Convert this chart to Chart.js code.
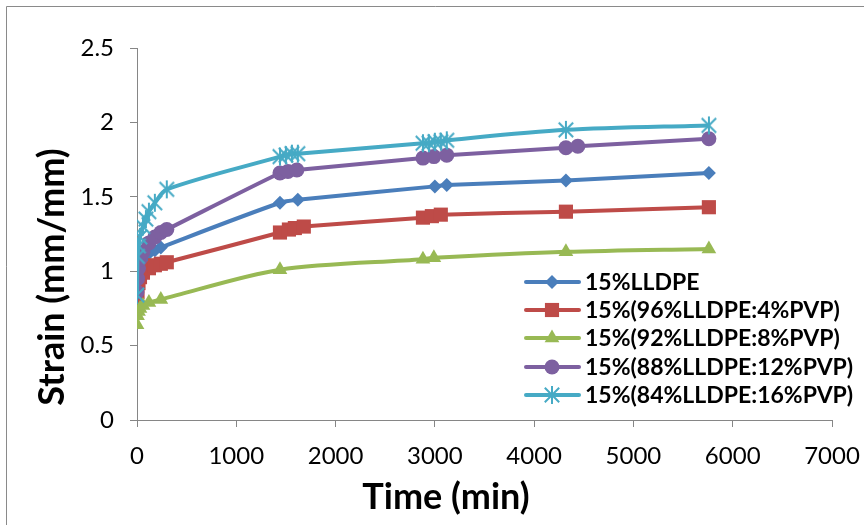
<!DOCTYPE html>
<html>
<head>
<meta charset="utf-8">
<script src="https://cdn.jsdelivr.net/npm/chart.js@4"></script>
<style>
  html, body { margin: 0; padding: 0; background: #fff; }
  #wrap { width: 864px; height: 525px; }
</style>
</head>
<body>
<div id="wrap"><canvas id="strain-chart" width="864" height="525"></canvas></div>
<script>
// Strain vs time for the LLDPE / PVP blends
const seriesNames = [
    '15%LLDPE',
    '15%(96%LLDPE:4%PVP)',
    '15%(92%LLDPE:8%PVP)',
    '15%(88%LLDPE:12%PVP)',
    '15%(84%LLDPE:16%PVP)'
];
const seriesColors = ['#4A7EBB', '#BE4B48', '#98B954', '#7D60A0', '#46AAC5'];

// time (min) and strain (mm/mm) per series
const timeLLDPE = [0, 5, 15, 30, 60, 120, 180, 240, 1440, 1620, 3000, 3120, 4320, 5760];
const strainLLDPE = [0.88, 0.95, 1.00, 1.04, 1.08, 1.12, 1.14, 1.16, 1.46, 1.48, 1.57, 1.58, 1.61, 1.66];

const timePVP4 = [0, 5, 15, 30, 60, 120, 180, 240, 300, 1440, 1530, 1590, 1680, 2880, 2970, 3060, 4320, 5760];
const strainPVP4 = [0.80, 0.86, 0.92, 0.96, 0.99, 1.02, 1.04, 1.05, 1.06, 1.26, 1.28, 1.29, 1.30, 1.36, 1.37, 1.38, 1.40, 1.43];

const timePVP8 = [0, 5, 15, 30, 60, 120, 240, 1440, 2880, 2990, 4320, 5760];
const strainPVP8 = [0.64, 0.70, 0.73, 0.75, 0.77, 0.79, 0.81, 1.01, 1.08, 1.09, 1.13, 1.15];

const timePVP12 = [0, 5, 15, 30, 60, 120, 180, 240, 300, 1440, 1520, 1610, 2880, 2990, 3120, 4320, 4440, 5760];
const strainPVP12 = [0.86, 0.95, 1.02, 1.08, 1.13, 1.19, 1.23, 1.26, 1.28, 1.66, 1.67, 1.68, 1.76, 1.77, 1.78, 1.83, 1.84, 1.89];

const timePVP16 = [0, 5, 15, 30, 60, 90, 120, 180, 300, 1440, 1500, 1560, 1620, 2880, 2940, 3000, 3060, 3120, 4320, 5760];
const strainPVP16 = [0.84, 1.10, 1.17, 1.23, 1.30, 1.35, 1.40, 1.46, 1.55, 1.77, 1.78, 1.79, 1.79, 1.86, 1.86, 1.87, 1.87, 1.88, 1.95, 1.98];

const xTicks = [0, 1000, 2000, 3000, 4000, 5000, 6000, 7000];
const yTicks = [0, 0.5, 1, 1.5, 2, 2.5];

const FONT = 'Lato, "Open Sans", sans-serif';
const AXIS_GRAY = '#868686';

// asterisk marker: vertical bar + X
function makeStar(color, size) {
    const c = document.createElement('canvas');
    c.width = size; c.height = size;
    const g = c.getContext('2d');
    const m = size / 2, r = size / 2 - 1;
    g.strokeStyle = color;
    g.lineWidth = 2;
    g.beginPath();
    g.moveTo(m, m - r); g.lineTo(m, m + r);
    g.moveTo(m - r * 0.8, m - r * 0.8); g.lineTo(m + r * 0.8, m + r * 0.8);
    g.moveTo(m + r * 0.8, m - r * 0.8); g.lineTo(m - r * 0.8, m + r * 0.8);
    g.stroke();
    return c;
}
const starMark = makeStar(seriesColors[4], 20);

const markers = [
    { pointStyle: 'rectRot', radius: 7 },
    { pointStyle: 'rect', radius: 10 },
    { pointStyle: 'triangle', radius: 8.5 },
    { pointStyle: 'circle', radius: 7.5 },
    { pointStyle: starMark, radius: 10 }
];

const times = [timeLLDPE, timePVP4, timePVP8, timePVP12, timePVP16];
const strains = [strainLLDPE, strainPVP4, strainPVP8, strainPVP12, strainPVP16];

const datasets = seriesNames.map((name, i) => ({
    label: name,
    data: times[i].map((t, k) => ({ x: t, y: strains[i][k] })),
    showLine: true,
    borderColor: seriesColors[i],
    backgroundColor: seriesColors[i],
    borderWidth: 4,
    tension: 0.3,
    pointStyle: markers[i].pointStyle,
    pointRadius: markers[i].radius,
    pointBorderWidth: 0,
    pointBackgroundColor: seriesColors[i],
    pointBorderColor: seriesColors[i],
    order: 5 - i
}));

// frame, axis titles and legend box
const decorPlugin = {
    id: 'decor',
    beforeDraw(chart) {
        const ctx = chart.ctx;
        ctx.save();
        ctx.fillStyle = '#fff';
        ctx.fillRect(0, 0, chart.width, chart.height);
        ctx.strokeStyle = '#8a8a8a';
        ctx.lineWidth = 1;
        ctx.beginPath();
        ctx.moveTo(6.5, chart.height + 2);
        ctx.lineTo(6.5, 6.5);
        ctx.lineTo(chart.width + 2, 6.5);
        ctx.stroke();
        ctx.restore();
    },
    afterDraw(chart) {
        const ctx = chart.ctx;
        ctx.save();
        ctx.fillStyle = '#000';
        ctx.font = 'bold 36px ' + FONT;
        ctx.textAlign = 'center';
        ctx.textBaseline = 'middle';
        ctx.fillText('Time (min)', 446, 497);
        ctx.translate(52, 277);
        ctx.rotate(-Math.PI / 2);
        ctx.fillText('Strain (mm/mm)', 0, 0);
        ctx.restore();

        // legend
        ctx.save();
        const rowY = [282, 310, 338, 367, 395];
        ctx.font = 'bold 23px ' + FONT;
        ctx.textBaseline = 'middle';
        ctx.textAlign = 'left';
        chart.data.datasets.forEach((ds, i) => {
            const y = rowY[i];
            ctx.strokeStyle = ds.borderColor;
            ctx.lineWidth = 4;
            ctx.lineCap = 'round';
            ctx.beginPath();
            ctx.moveTo(526, y);
            ctx.lineTo(579, y);
            ctx.stroke();
            ctx.fillStyle = ds.pointBackgroundColor;
            ctx.strokeStyle = ds.pointBorderColor;
            const style = ds.pointStyle;
            if (typeof style === 'string') {
                Chart.helpers.drawPoint(ctx, { pointStyle: style, radius: ds.pointRadius, borderWidth: 0, rotation: 0 }, 552, y);
            } else {
                ctx.drawImage(style, 552 - style.width / 2, y - style.height / 2);
            }
            ctx.fillStyle = '#000';
            ctx.fillText(ds.label, 585, y + 1);
        });
        ctx.restore();
    }
};

const ctx = document.getElementById('strain-chart').getContext('2d');
const strainChart = new Chart(ctx, {
    type: 'scatter',
    data: { datasets },
    plugins: [decorPlugin],
    options: {
        responsive: false,
        animation: false,
        events: [],
        layout: { padding: { left: 0, right: 32, top: 48, bottom: 0 } },
        plugins: { legend: { display: false }, tooltip: { enabled: false } },
        scales: {
            x: {
                type: 'linear', min: 0, max: 7000,
                afterBuildTicks: s => { s.ticks = xTicks.map(v => ({ value: v })); },
                afterFit: s => { s.height = 105; s.paddingLeft = 0; s.paddingRight = 0; },
                ticks: { color: '#000', font: { family: FONT, size: 24 }, padding: 15, maxRotation: 0,
                         callback: v => String(v) },
                grid: { drawOnChartArea: false, drawTicks: true, tickLength: 7, color: AXIS_GRAY },
                border: { color: AXIS_GRAY, width: 1 }
            },
            y: {
                type: 'linear', min: 0, max: 2.5,
                afterBuildTicks: s => { s.ticks = yTicks.map(v => ({ value: v })); },
                afterFit: s => { s.width = 137; s.paddingTop = 0; s.paddingBottom = 0; },
                ticks: { color: '#000', font: { family: FONT, size: 24 }, padding: 16,
                         callback: v => String(v) },
                grid: { drawOnChartArea: false, drawTicks: true, tickLength: 7, color: AXIS_GRAY },
                border: { color: AXIS_GRAY, width: 1 }
            }
        }
    }
});
</script>
</body>
</html>
